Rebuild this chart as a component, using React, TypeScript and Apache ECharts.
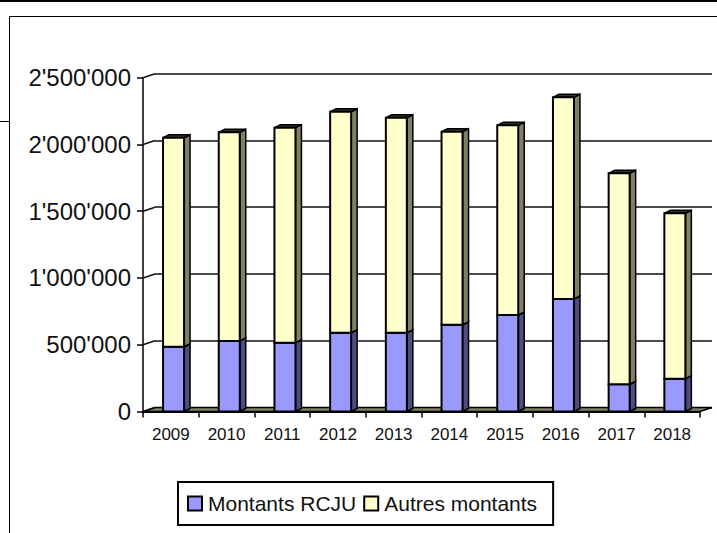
import React, { useEffect, useRef } from "react";
import * as echarts from "echarts";

const years = ["2009", "2010", "2011", "2012", "2013", "2014", "2015", "2016", "2017", "2018"];
const montantsRCJU = [485000, 528000, 515000, 590000, 590000, 650000, 723000, 843000, 204000, 246000];
const autresMontants = [1565000, 1563000, 1611000, 1655000, 1610000, 1446000, 1420000, 1510000, 1580000, 1238000];
const yTicks = [0, 500000, 1000000, 1500000, 2000000, 2500000];

const BAR_W = 21, BAR_SHIFT = 2.7, BAR_DX = 6, BAR_DY = -3;
const WALL_DX = 12, WALL_DY = -4;
const INK = "#000000";

const fmt = (v: number) => String(v).replace(/\B(?=(\d{3})+(?!\d))/g, "'");

function barRenderer(front: string, side: string) {
  return (_p: any, api: any) => {
    const cx = api.coord([api.value(0), 0])[0];
    const y0 = api.coord([0, api.value(1)])[1];
    const y1 = api.coord([0, api.value(2)])[1];
    const x0 = cx + BAR_SHIFT - BAR_W / 2;
    const x1 = x0 + BAR_W;
    const s = { stroke: INK, lineWidth: 1.5, lineJoin: "miter" };
    return {
      type: "group",
      children: [
        { type: "polygon", shape: { points: [[x1, y0], [x1 + BAR_DX, y0 + BAR_DY], [x1 + BAR_DX, y1 + BAR_DY], [x1, y1]] }, style: { fill: side, ...s } },
        { type: "polygon", shape: { points: [[x0, y1], [x1, y1], [x1 + BAR_DX, y1 + BAR_DY], [x0 + BAR_DX, y1 + BAR_DY]] }, style: { fill: "#333326", ...s } },
        { type: "rect", shape: { x: x0, y: y1, width: BAR_W, height: y0 - y1 }, style: { fill: front, ...s, lineWidth: 2 } },
      ],
    };
  };
}

export default function App() {
  const ref = useRef<HTMLDivElement>(null);
  useEffect(() => {
    const chart = echarts.init(ref.current!, null, { renderer: "svg" });
    const L = 143, R = 17, T = 77.7, B = 121.5;
    const W = 717 - L - R, H = 533 - T - B;
    const rows1 = years.map((_, i) => [i, 0, montantsRCJU[i]]);
    const rows2 = years.map((_, i) => [i, montantsRCJU[i], montantsRCJU[i] + autresMontants[i]]);
    chart.setOption({
      animation: false,
      textStyle: { fontFamily: "Liberation Sans" },
      grid: [
        { left: L, top: T, width: W, height: H },
        { left: L + WALL_DX, top: T + WALL_DY, width: W, height: H },
      ],
      xAxis: [
        {
          type: "category", gridIndex: 0, data: years,
          axisLine: { lineStyle: { color: INK, width: 2 } },
          axisTick: { show: true, alignWithLabel: false, length: 6, lineStyle: { color: INK, width: 1.5 } },
          axisLabel: { color: "#111", fontSize: 17, margin: 14, interval: 0 },
        },
        { type: "category", gridIndex: 1, data: years, show: false },
      ],
      yAxis: [
        {
          type: "value", gridIndex: 0, min: 0, max: 2500000, interval: 500000,
          axisLine: { show: true, lineStyle: { color: INK, width: 1.5 } },
          axisTick: { show: true, length: 6, lineStyle: { color: INK, width: 1.5 } },
          axisLabel: { color: "#111", fontSize: 24, margin: 12, formatter: fmt },
          splitLine: { show: false },
        },
        {
          type: "value", gridIndex: 1, min: 0, max: 2500000, interval: 500000,
          axisLine: { show: false }, axisTick: { show: false }, axisLabel: { show: false },
          splitLine: { show: true, lineStyle: { color: "#111", width: 1.6 } },
        },
      ],
      legend: {
        left: 178, top: 482,
        data: ["Montants RCJU", "Autres montants"],
        orient: "horizontal",
        borderColor: INK, borderWidth: 2, backgroundColor: "#fff",
        padding: [11, 16, 11, 9],
        itemWidth: 14, itemHeight: 14, itemGap: 7,
        icon: "rect",
        textStyle: { fontSize: 21, color: "#111", fontFamily: "Liberation Sans", padding: [0, 0, 0, 1] },
        selectedMode: false,
      },
      series: [
        {
          type: "custom", name: "floor", xAxisIndex: 0, yAxisIndex: 0, z: 1, data: [[0]],
          renderItem: (p: any) => {
            const c = p.coordSys;
            const y = c.y + c.height;
            return {
              type: "polygon",
              shape: { points: [[c.x, y], [c.x + c.width, y], [c.x + c.width + WALL_DX, y + WALL_DY], [c.x + WALL_DX, y + WALL_DY]] },
              style: { fill: "#808066", stroke: INK, lineWidth: 1.5 },
            };
          },
        },
        {
          type: "custom", name: "links", xAxisIndex: 0, yAxisIndex: 0, z: 1,
          data: yTicks.map((v) => [v]),
          renderItem: (p: any, api: any) => {
            const y = api.coord([0, api.value(0)])[1];
            const x = p.coordSys.x;
            return { type: "line", shape: { x1: x, y1: y, x2: x + WALL_DX, y2: y + WALL_DY }, style: { stroke: "#111", lineWidth: 1.5 } };
          },
        },
        {
          type: "custom", name: "Montants RCJU", xAxisIndex: 0, yAxisIndex: 0, z: 3,
          itemStyle: { color: "#9999FF", borderColor: INK, borderWidth: 2 },
          encode: { x: 0, y: 2 }, data: rows1,
          renderItem: barRenderer("#9999FF", "#4D4D80"),
        },
        {
          type: "custom", name: "Autres montants", xAxisIndex: 0, yAxisIndex: 0, z: 3,
          itemStyle: { color: "#FFFFCC", borderColor: INK, borderWidth: 2 },
          encode: { x: 0, y: 2 }, data: rows2,
          renderItem: barRenderer("#FFFFCC", "#808066"),
        },
      ],
      graphic: [
        { type: "rect", shape: { x: 0, y: 0, width: 717, height: 2 }, style: { fill: INK } },
        { type: "line", shape: { x1: 9.5, y1: 16.5, x2: 717, y2: 16.5 }, style: { stroke: INK, lineWidth: 1 } },
        { type: "line", shape: { x1: 9.5, y1: 16.5, x2: 9.5, y2: 533 }, style: { stroke: INK, lineWidth: 1 } },
        { type: "line", shape: { x1: 0, y1: 121.5, x2: 9.5, y2: 121.5 }, style: { stroke: INK, lineWidth: 1 } },
      ],
    });
    return () => chart.dispose();
  }, []);
  return <div ref={ref} style={{ position: "fixed", left: 0, top: 0, width: 717, height: 533, background: "#fff" }} />;
}
